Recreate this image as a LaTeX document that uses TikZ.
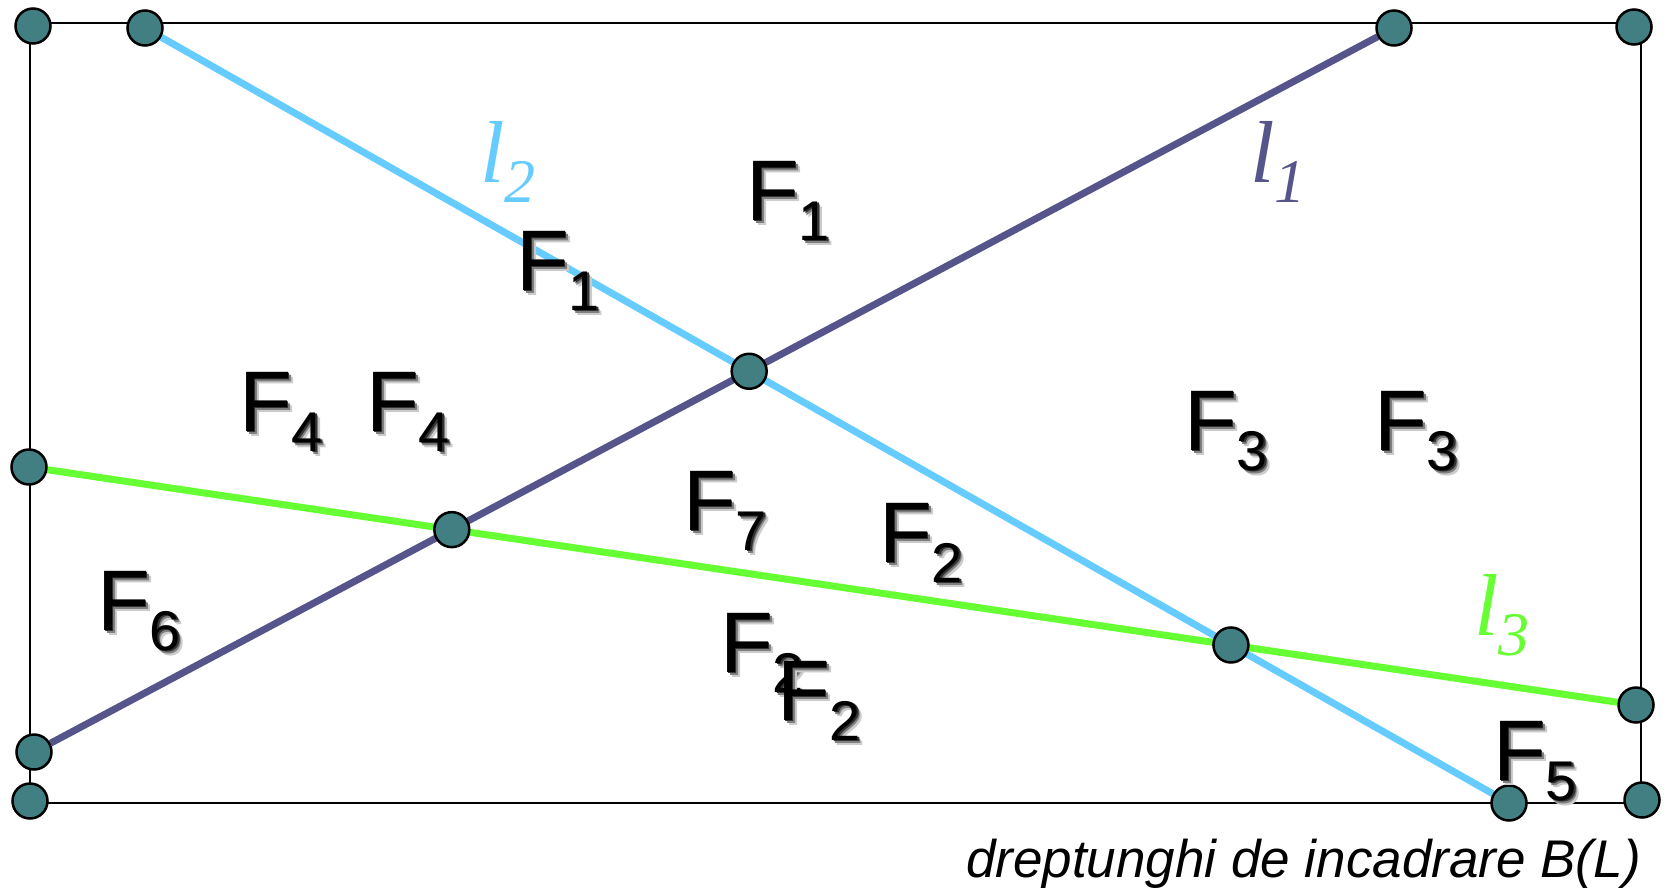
\documentclass[tikz,border=0pt]{standalone}
\usepackage{fontspec}
\setmainfont{Liberation Sans}
\newfontfamily\lserif{Liberation Serif}

\definecolor{ptfill}{HTML}{427F82}
\definecolor{lonecol}{HTML}{55558C}
\definecolor{ltwocol}{HTML}{66CCFF}
\definecolor{lthreecol}{HTML}{66FF33}

\pgfdeclarelayer{bg}
\pgfsetlayers{bg,main}

\newcommand{\fsub}[1]{{\fontsize{86}{86}\selectfont F}\raisebox{-20pt}{\fontsize{56}{56}\selectfont #1}}
\newcommand{\fshade}[3]{\makebox[0pt][l]{\hspace{#1}\raisebox{-#1}{\color{black!#2}\fsub{#3}}}}
\newcommand{\flab}[1]{\fshade{5pt}{20}{#1}\fshade{3pt}{50}{#1}\fshade{1.5pt}{80}{#1}\fsub{#1}}
\newcommand{\lsub}[1]{{\fontsize{88}{88}\selectfont\lserif\itshape l}\raisebox{-20pt}{\fontsize{62}{62}\selectfont\lserif\itshape #1}}

\begin{document}
\begin{tikzpicture}[
    x=1pt, y=-1pt,
    bbox/.style={draw=black, line width=2.5pt},
    vertex/.style={circle, draw=black, line width=2.5pt, fill=ptfill, minimum size=35pt, inner sep=0pt},
    seg/.style={line width=7pt},
    face/.style={anchor=base west, inner sep=0pt},
    lname/.style={anchor=base west, inner sep=0pt}
]
\useasboundingbox (0,0) rectangle (1669,892);

% end points on the box
\node[vertex] (ctl) at (33,26) {};
\node[vertex] (ctr) at (1634,27) {};
\node[vertex] (cbl) at (30,801) {};
\node[vertex] (cbr) at (1642,800) {};
\node[vertex] (a1) at (34,752) {};
\node[vertex] (b1) at (1394,28) {};
\node[vertex] (a2) at (145,28) {};
\node[vertex] (b2) at (1509,803) {};
\node[vertex] (a3) at (29,467) {};
\node[vertex] (b3) at (1636,705) {};

% crossings
\node[vertex] (x12) at (intersection of a1--b1 and a2--b2) {};
\node[vertex] (x13) at (intersection of a1--b1 and a3--b3) {};
\node[vertex] (x23) at (intersection of a2--b2 and a3--b3) {};

\begin{pgfonlayer}{bg}
\draw[bbox] (30,23) rectangle (1641,803);
\draw[seg, lonecol] (a1) -- (b1);
\draw[seg, ltwocol] (a2) -- (b2);
\draw[seg, lthreecol] (a3) -- (b3);
\end{pgfonlayer}

\node[lname, text=lonecol] (l1) at (1250,182) {\lsub{1}};
\node[lname, text=ltwocol] (l2) at (480,182) {\lsub{2}};
\node[lname, text=lthreecol] (l3) at (1474,635) {\lsub{3}};

\node[face] (f1a) at (746,220) {\flab{1}};
\node[face] (f1b) at (516,290) {\flab{1}};
\node[face] (f4a) at (239,431) {\flab{4}};
\node[face] (f4b) at (366,431) {\flab{4}};
\node[face] (f3a) at (1184,450) {\flab{3}};
\node[face] (f3b) at (1374,450) {\flab{3}};
\node[face] (f7) at (683,530) {\flab{7}};
\node[face] (f2a) at (879,562) {\flab{2}};
\node[face] (f6) at (97,630) {\flab{6}};
\node[face] (f2b) at (720,672) {\flab{2}};
\node[face] (f2c) at (777,720) {\flab{2}};
\node[face] (f5) at (1493,780) {\flab{5}};

\node[anchor=base east, inner sep=0pt, font=\itshape\fontsize{53}{53}\selectfont] (cap) at (1641,877) {dreptunghi de incadrare B(L)};

\end{tikzpicture}
\end{document}
